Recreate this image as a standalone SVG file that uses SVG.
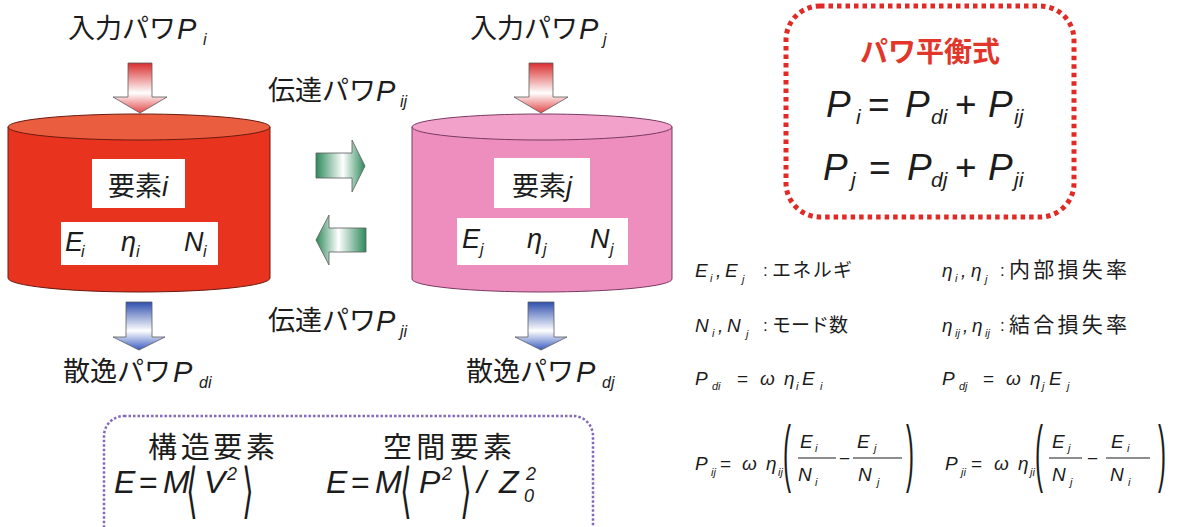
<svg xmlns="http://www.w3.org/2000/svg" width="1182" height="527" viewBox="0 0 1182 527">
<defs>
<style>
.cjk{font-family:"Noto Sans CJK JP","Noto Sans CJK SC",sans-serif;fill:#1c1c1c}
.m{font-family:"Liberation Sans",Arial,sans-serif;font-style:italic;fill:#1c1c1c}
.r{font-family:"Liberation Sans",Arial,sans-serif;fill:#1c1c1c}
.br{font-family:"DejaVu Sans",sans-serif;fill:#1c1c1c}
.box{fill:#ffffff}
.arr{stroke:#5a5a5a;stroke-width:0.8}
</style>
<linearGradient id="gRed" x1="0" y1="0" x2="0" y2="1">
<stop offset="0" stop-color="#d92e2e"/><stop offset="0.6" stop-color="#ffffff"/><stop offset="1" stop-color="#e34848"/>
</linearGradient>
<linearGradient id="gBlue" x1="0" y1="0" x2="0" y2="1">
<stop offset="0" stop-color="#2f4fae"/><stop offset="0.6" stop-color="#ffffff"/><stop offset="1" stop-color="#3a5cc0"/>
</linearGradient>
<linearGradient id="gGreenR" x1="0" y1="0" x2="1" y2="0">
<stop offset="0" stop-color="#2e8a5c"/><stop offset="0.55" stop-color="#ffffff"/><stop offset="1" stop-color="#2e8a5c"/>
</linearGradient>
<linearGradient id="gGreenL" x1="0" y1="0" x2="1" y2="0">
<stop offset="0" stop-color="#2e8a5c"/><stop offset="0.45" stop-color="#ffffff"/><stop offset="1" stop-color="#2e8a5c"/>
</linearGradient>
</defs>
<rect width="1182" height="527" fill="#ffffff"/>

<g id="connectors">
<path class="arr" fill="url(#gRed)" d="M128,63 H152 V97 H167 L140,113 L113,97 H128 Z"/>
<path class="arr" fill="url(#gRed)" d="M529,63 H553 V97 H568 L541,113 L514,97 H529 Z"/>
<path class="arr" fill="url(#gBlue)" d="M126,302 H152 V337 H165 L139,350 L113,337 H126 Z"/>
<path class="arr" fill="url(#gBlue)" d="M528,302 H554 V337 H567 L541,350 L515,337 H528 Z"/>
<path class="arr" fill="url(#gGreenR)" d="M316,153 H352 V140 L365,166 L352,192 V178 H316 Z"/>
<path class="arr" fill="url(#gGreenL)" d="M366,228 H329 V215 L316,240 L329,265 V252 H366 Z"/>
</g>

<g id="node-i">
<path d="M8,127 V278 A131,14 0 0 0 270,278 V127 Z" fill="#e8341f" stroke="#6a1a10" stroke-width="1"/>
<ellipse cx="139" cy="127" rx="131" ry="13" fill="#eb5d3f" stroke="#6a1a10" stroke-width="1"/>
<rect class="box" x="92" y="159" width="93" height="49"/>
<text x="138" y="196" font-size="27" text-anchor="middle"><tspan class="cjk">要素</tspan><tspan class="m">i</tspan></text>
<rect class="box" x="61" y="222" width="157" height="43"/>
<text class="m" font-size="27" x="65" y="251">E</text>
<text class="m" font-size="16" x="81" y="257">i</text>
<text class="m" font-size="27" x="121" y="251">η</text>
<text class="m" font-size="16" x="136" y="257">i</text>
<text class="m" font-size="27" x="184" y="251">N</text>
<text class="m" font-size="16" x="203" y="257">i</text>
</g>

<g id="node-j">
<path d="M412,127 V279 A130,13 0 0 0 672,279 V127 Z" fill="#ee8ebf" stroke="#7a3a62" stroke-width="1"/>
<ellipse cx="542" cy="127" rx="130" ry="13" fill="#f2a2ca" stroke="#7a3a62" stroke-width="1"/>
<rect class="box" x="494" y="158" width="96" height="50"/>
<text x="542" y="196" font-size="27" text-anchor="middle"><tspan class="cjk">要素</tspan><tspan class="m">j</tspan></text>
<rect class="box" x="457" y="218" width="171" height="47"/>
<text class="m" font-size="27" x="462" y="248">E</text>
<text class="m" font-size="16" x="480" y="255">j</text>
<text class="m" font-size="27" x="527" y="248">η</text>
<text class="m" font-size="16" x="543" y="255">j</text>
<text class="m" font-size="27" x="590" y="248">N</text>
<text class="m" font-size="16" x="610" y="255">j</text>
</g>

<g id="labels">
<text class="cjk" font-size="27" x="68" y="38">入力パワ</text>
<text class="m" font-size="29" x="177" y="39">P</text>
<text class="m" font-size="16" x="203" y="45">i</text>

<text class="cjk" font-size="27" x="470" y="38">入力パワ</text>
<text class="m" font-size="29" x="579" y="39">P</text>
<text class="m" font-size="16" x="603" y="45">j</text>

<text class="cjk" font-size="27" x="268" y="100">伝達パワ</text>
<text class="m" font-size="29" x="376" y="101">P</text>
<text class="m" font-size="16" x="400" y="107">ij</text>

<text class="cjk" font-size="27" x="268" y="330">伝達パワ</text>
<text class="m" font-size="29" x="376" y="331">P</text>
<text class="m" font-size="16" x="400" y="337">ji</text>

<text class="cjk" font-size="27" x="63" y="381">散逸パワ</text>
<text class="m" font-size="29" x="173" y="382">P</text>
<text class="m" font-size="16" x="199" y="388">di</text>

<text class="cjk" font-size="27" x="466" y="381">散逸パワ</text>
<text class="m" font-size="29" x="576" y="382">P</text>
<text class="m" font-size="16" x="602" y="388">dj</text>
</g>

<g id="balance-box">
<rect x="786" y="6" width="288" height="211" rx="34" fill="none" stroke="#e02a26" stroke-width="5" stroke-dasharray="4.5 4"/>
<text x="930" y="62" font-size="28" font-weight="bold" text-anchor="middle" class="cjk" style="fill:#e2362a">パワ平衡式</text>
<text class="m" font-size="37" x="826" y="117">P</text>
<text class="m" font-size="21" x="856" y="124">i</text>
<text class="r" font-size="37" x="868" y="117">=</text>
<text class="m" font-size="37" x="905" y="117">P</text>
<text class="m" font-size="21" x="931" y="124">di</text>
<text class="r" font-size="37" x="955" y="117">+</text>
<text class="m" font-size="37" x="988" y="117">P</text>
<text class="m" font-size="21" x="1014" y="124">ij</text>

<text class="m" font-size="37" x="823" y="180">P</text>
<text class="m" font-size="21" x="851" y="187">j</text>
<text class="r" font-size="37" x="869" y="180">=</text>
<text class="m" font-size="37" x="907" y="180">P</text>
<text class="m" font-size="21" x="931" y="187">dj</text>
<text class="r" font-size="37" x="955" y="180">+</text>
<text class="m" font-size="37" x="988" y="180">P</text>
<text class="m" font-size="21" x="1014" y="187">ji</text>
</g>

<g id="legend">
<text class="m" font-size="19" x="695" y="277">E</text>
<text class="m" font-size="11" x="710" y="282">i</text>
<text class="m" font-size="19" x="716" y="277">,</text>
<text class="m" font-size="19" x="725" y="277">E</text>
<text class="m" font-size="11" x="742" y="283">j</text>
<text class="r" font-size="17" x="763" y="276">:</text>
<text class="cjk" font-size="19" x="772" y="277" textLength="80">エネルギ</text>

<text class="m" font-size="19" x="942" y="277">η</text>
<text class="m" font-size="11" x="955" y="282">i</text>
<text class="m" font-size="19" x="961" y="277">,</text>
<text class="m" font-size="19" x="971" y="277">η</text>
<text class="m" font-size="11" x="985" y="283">j</text>
<text class="r" font-size="17" x="1000" y="276">:</text>
<text class="cjk" font-size="21" x="1009" y="277" textLength="118">内部損失率</text>

<text class="m" font-size="19" x="695" y="332">N</text>
<text class="m" font-size="11" x="712" y="337">i</text>
<text class="m" font-size="19" x="718" y="332">,</text>
<text class="m" font-size="19" x="727" y="332">N</text>
<text class="m" font-size="11" x="746" y="338">j</text>
<text class="r" font-size="17" x="763" y="331">:</text>
<text class="cjk" font-size="19" x="772" y="332" textLength="76">モード数</text>

<text class="m" font-size="19" x="942" y="332">η</text>
<text class="m" font-size="11" x="955" y="337">ij</text>
<text class="m" font-size="19" x="963" y="332">,</text>
<text class="m" font-size="19" x="972" y="332">η</text>
<text class="m" font-size="11" x="985" y="337">ij</text>
<text class="r" font-size="17" x="1000" y="331">:</text>
<text class="cjk" font-size="21" x="1009" y="332" textLength="118">結合損失率</text>

<text class="m" font-size="19" x="695" y="385">P</text>
<text class="m" font-size="11" x="712" y="390">di</text>
<text class="r" font-size="19" x="737" y="385">=</text>
<text class="m" font-size="19" x="760" y="385">ω</text>
<text class="m" font-size="19" x="784" y="385">η</text>
<text class="m" font-size="11" x="796" y="390">i</text>
<text class="m" font-size="19" x="802" y="385">E</text>
<text class="m" font-size="11" x="820" y="390">i</text>

<text class="m" font-size="19" x="942" y="385">P</text>
<text class="m" font-size="11" x="959" y="390">dj</text>
<text class="r" font-size="19" x="983" y="385">=</text>
<text class="m" font-size="19" x="1006" y="385">ω</text>
<text class="m" font-size="19" x="1030" y="385">η</text>
<text class="m" font-size="11" x="1042" y="390">j</text>
<text class="m" font-size="19" x="1049" y="385">E</text>
<text class="m" font-size="11" x="1067" y="390">j</text>

<text class="m" font-size="19" x="695" y="470">P</text>
<text class="m" font-size="11" x="711" y="476">ij</text>
<text class="r" font-size="19" x="720" y="470">=</text>
<text class="m" font-size="19" x="742" y="470">ω</text>
<text class="m" font-size="19" x="766" y="470">η</text>
<text class="m" font-size="11" x="778" y="476">ij</text>
<text class="r" font-size="24" transform="translate(783,459) scale(1,3.1)" y="6">(</text>
<text class="m" font-size="19" x="800" y="448">E</text>
<text class="m" font-size="11" x="815" y="452">i</text>
<line x1="798" y1="458" x2="836" y2="458" stroke="#1c1c1c" stroke-width="1.2"/>
<text class="m" font-size="19" x="798" y="481">N</text>
<text class="m" font-size="11" x="815" y="486">i</text>
<text class="r" font-size="19" x="839" y="465">−</text>
<text class="m" font-size="19" x="857" y="448">E</text>
<text class="m" font-size="11" x="874" y="452">j</text>
<line x1="853" y1="458" x2="902" y2="458" stroke="#1c1c1c" stroke-width="1.2"/>
<text class="m" font-size="19" x="858" y="481">N</text>
<text class="m" font-size="11" x="877" y="486">j</text>
<text class="r" font-size="24" transform="translate(906,459) scale(1,3.1)" y="6">)</text>

<text class="m" font-size="19" x="945" y="470">P</text>
<text class="m" font-size="11" x="961" y="476">ji</text>
<text class="r" font-size="19" x="971" y="470">=</text>
<text class="m" font-size="19" x="994" y="470">ω</text>
<text class="m" font-size="19" x="1018" y="470">η</text>
<text class="m" font-size="11" x="1030" y="476">ji</text>
<text class="r" font-size="24" transform="translate(1035,459) scale(1,3.1)" y="6">(</text>
<text class="m" font-size="19" x="1052" y="448">E</text>
<text class="m" font-size="11" x="1068" y="452">j</text>
<line x1="1049" y1="458" x2="1082" y2="458" stroke="#1c1c1c" stroke-width="1.2"/>
<text class="m" font-size="19" x="1052" y="481">N</text>
<text class="m" font-size="11" x="1070" y="486">j</text>
<text class="r" font-size="19" x="1087" y="465">−</text>
<text class="m" font-size="19" x="1111" y="448">E</text>
<text class="m" font-size="11" x="1127" y="452">i</text>
<line x1="1106" y1="458" x2="1150" y2="458" stroke="#1c1c1c" stroke-width="1.2"/>
<text class="m" font-size="19" x="1110" y="481">N</text>
<text class="m" font-size="11" x="1128" y="486">i</text>
<text class="r" font-size="24" transform="translate(1158,459) scale(1,3.1)" y="6">)</text>
</g>

<g id="energy-box">
<rect x="104" y="416" width="489" height="130" rx="20" fill="none" stroke="#8468bc" stroke-width="2.5" stroke-dasharray="2.5 2"/>
<text class="cjk" font-size="29" x="148" y="458" textLength="127">構造要素</text>
<text class="cjk" font-size="29" x="383" y="458" textLength="129">空間要素</text>
<text class="m" font-size="32" x="114" y="493">E</text>
<text class="r" font-size="32" x="139" y="493">=</text>
<text class="m" font-size="32" x="163" y="493">M</text>
<text class="br" font-size="30" transform="translate(186,491) scale(1,2)" y="10">⟨</text>
<text class="m" font-size="32" x="204" y="493">V</text>
<text class="m" font-size="18" x="227" y="480">2</text>
<text class="br" font-size="30" transform="translate(242,491) scale(1,2)" y="10">⟩</text>
<text class="m" font-size="32" x="326" y="493">E</text>
<text class="r" font-size="32" x="351" y="493">=</text>
<text class="m" font-size="32" x="375" y="493">M</text>
<text class="br" font-size="30" transform="translate(400,491) scale(1,2)" y="10">⟨</text>
<text class="m" font-size="32" x="419" y="493">P</text>
<text class="m" font-size="18" x="442" y="480">2</text>
<text class="br" font-size="30" transform="translate(460,491) scale(1,2)" y="10">⟩</text>
<text class="m" font-size="32" x="477" y="493">/</text>
<text class="m" font-size="32" x="499" y="493">Z</text>
<text class="m" font-size="18" x="526" y="480">2</text>
<text class="m" font-size="18" x="524" y="502">0</text>
</g>
</svg>
